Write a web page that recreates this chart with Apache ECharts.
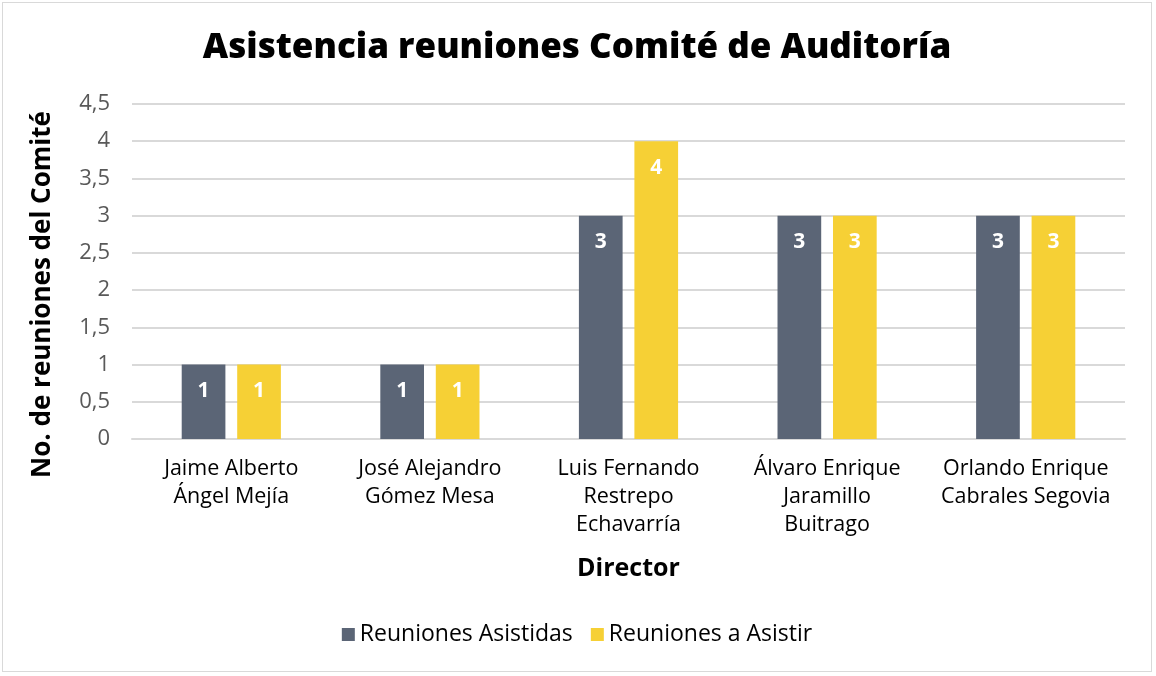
<!DOCTYPE html>
<html lang="es">
<head>
    <meta charset="UTF-8">
    <title>Asistencia reuniones</title>
    <script src="https://cdn.jsdelivr.net/npm/echarts@6/dist/echarts.min.js"></script>
    <style>
        body { margin: 0; padding: 0; background: #fff; }
        #chart {
            width: 1150px;
            height: 670px;
            margin: 2px;
            border: 1px solid #d9d9d9;
            box-sizing: border-box;
        }
    </style>
</head>
<body>
    <div id="chart"></div>
    <script>
        const directores = [
            'Jaime Alberto\nÁngel Mejía',
            'José Alejandro\nGómez Mesa',
            'Luis Fernando\nRestrepo\nEchavarría',
            'Álvaro Enrique\nJaramillo\nBuitrago',
            'Orlando Enrique\nCabrales Segovia'
        ];
        const asistidas = [1, 1, 3, 3, 3];
        const aAsistir = [1, 1, 4, 3, 3];

        const fuente = '"Open Sans", "Noto Sans", sans-serif';
        const etiqueta = {
            show: true,
            position: 'insideTop',
            distance: 16,
            color: '#fff',
            fontWeight: 'bold',
            fontSize: 21,
            fontFamily: fuente
        };

        const chart = echarts.init(document.getElementById('chart'));
        chart.setOption({
            animation: false,
            title: {
                text: 'Asistencia reuniones Comité de Auditoría',
                left: 'center',
                top: 23,
                textStyle: { fontSize: 35, fontWeight: 800, color: '#000', fontFamily: fuente }
            },
            legend: {
                bottom: 20,
                left: 'center',
                itemWidth: 13,
                itemHeight: 13,
                itemGap: 18,
                itemStyle: { borderWidth: 0 },
                icon: 'rect',
                textStyle: { fontSize: 23, color: '#000', fontFamily: fuente }
            },
            grid: { left: 129, right: 26, top: 101, bottom: 232 },
            xAxis: {
                type: 'category',
                data: directores,
                name: 'Director',
                nameLocation: 'middle',
                nameGap: 117,
                nameTextStyle: { fontSize: 25, fontWeight: 'bold', color: '#000', fontFamily: fuente },
                axisLine: { lineStyle: { color: '#d9d9d9', width: 2 } },
                axisTick: { show: false },
                axisLabel: { fontSize: 21.5, color: '#000', lineHeight: 28, margin: 16, interval: 0, fontFamily: fuente }
            },
            yAxis: {
                type: 'value',
                min: 0,
                max: 4.5,
                interval: 0.5,
                name: 'No. de reuniones del Comité',
                nameLocation: 'middle',
                nameGap: 76,
                nameTextStyle: {
                    fontSize: 26, fontWeight: 'bold', color: '#000', fontFamily: fuente,
                    padding: [0, 46, 0, 0]
                },
                axisLabel: {
                    fontSize: 22, color: '#595959', margin: 22, fontFamily: fuente,
                    formatter: v => String(v).replace('.', ',')
                },
                splitLine: { lineStyle: { color: '#d9d9d9', width: 2 } }
            },
            series: [
                {
                    name: 'Reuniones Asistidas',
                    type: 'bar',
                    data: asistidas,
                    barWidth: '22%',
                    barGap: '27%',
                    itemStyle: { color: '#5b6576' },
                    label: etiqueta
                },
                {
                    name: 'Reuniones a Asistir',
                    type: 'bar',
                    data: aAsistir,
                    barWidth: '22%',
                    itemStyle: { color: '#f6d035' },
                    label: etiqueta
                }
            ]
        });
    </script>
</body>
</html>
